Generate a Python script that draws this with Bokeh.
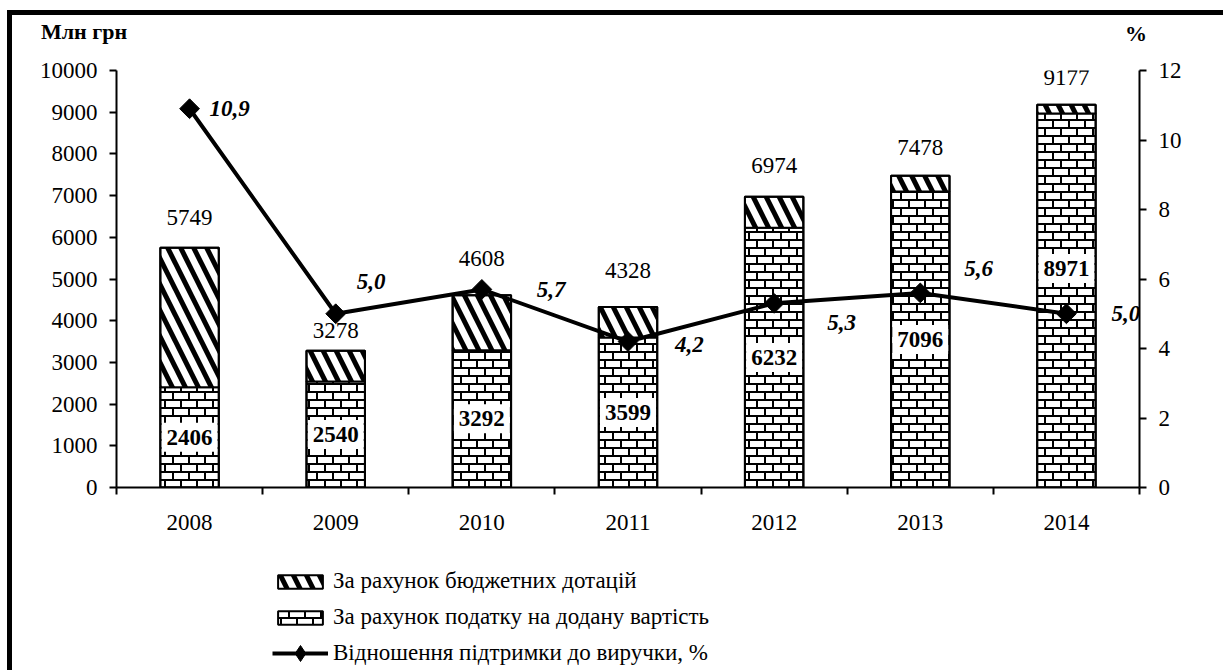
import zlib, struct, base64
from bokeh.plotting import figure
from bokeh.layouts import column
from bokeh.models import (ColumnDataSource, LinearAxis, Range1d, FixedTicker,
                          Legend, LegendItem, ImageURLTexture, Div)
from bokeh.core.properties import value
from bokeh.embed import file_html
from bokeh.resources import INLINE

# ---------------- data ----------------
years = ["2008", "2009", "2010", "2011", "2012", "2013", "2014"]
vat = [2406, 2540, 3292, 3599, 6232, 7096, 8971]          # за рахунок ПДВ
totals = [5749, 3278, 4608, 4328, 6974, 7478, 9177]       # загальна підтримка
ratio = [10.9, 5.0, 5.7, 4.2, 5.3, 5.6, 5.0]              # відношення, %
ratio_labels = ["10,9", "5,0", "5,7", "4,2", "5,3", "5,6", "5,0"]
left_ticks = [0, 1000, 2000, 3000, 4000, 5000, 6000, 7000, 8000, 9000, 10000]
right_ticks = [0, 2, 4, 6, 8, 10, 12]
left_title = "Млн грн"
right_title = "%"
legend_labels = ["За рахунок бюджетних дотацій",
                 "За рахунок податку на додану вартість",
                 "Відношення підтримки до виручки, %"]

subsidy = [t - v for t, v in zip(totals, vat)]
xs = list(range(1, len(years) + 1))

# ---------------- styles (screen offsets) ----------------
total_dy = [-30, -20, -37, -37, -31, -28, -27]
vat_dy = [0, 0, 0, 0, 0, 0, -32]
pt_dx = [20, 21, 55, 47, 53, 44, 45]
pt_dy = [0, -32, 0, 3, 19, -24, 0]

FONT = "Liberation Serif, DejaVu Serif"
W = 1210
NAN = float("nan")

# brick texture (16x16 png)
def make_png(w, h, rows):
    raw = b"".join(b"\x00" + bytes(r) for r in rows)
    def chunk(t, d):
        c = struct.pack(">I", len(d)) + t + d
        return c + struct.pack(">I", zlib.crc32(t + d) & 0xffffffff)
    return (b"\x89PNG\r\n\x1a\n" +
            chunk(b"IHDR", struct.pack(">IIBBBBB", w, h, 8, 0, 0, 0, 0)) +
            chunk(b"IDAT", zlib.compress(raw)) + chunk(b"IEND", b""))

tile = []
for yy in range(16):
    row = []
    for xx in range(16):
        if yy % 8 in (0, 1):
            row.append(0)
        elif (yy < 8 and xx in (0, 1)) or (yy >= 8 and xx in (8, 9)):
            row.append(0)
        else:
            row.append(255)
    tile.append(row)
brick_url = "data:image/png;base64," + base64.b64encode(make_png(16, 16, tile)).decode()

VAT_STYLE = dict(fill_color="white", line_color="black", line_width=2,
                 hatch_pattern=value("brick"))
SUB_STYLE = dict(fill_color="white", line_color="black", line_width=2,
                 hatch_pattern="left_diagonal_line", hatch_color="black",
                 hatch_weight=5, hatch_scale=26)

src = ColumnDataSource(dict(
    x=xs, vat=vat, totals=totals, zero=[0] * len(xs), ratio=ratio,
    rlab=ratio_labels, tlab=[str(t) for t in totals], vlab=[str(v) for v in vat],
    vmid=[v / 2 for v in vat], tdy=total_dy, vdy=vat_dy, pdx=pt_dx, pdy=pt_dy,
))

# ---------------- title strip (axis titles) ----------------
css_font = ("font-family:'Liberation Serif','DejaVu Serif',serif;font-weight:bold;"
            "font-size:22px;line-height:24px;color:black;")
tdiv = Div(width=W, height=30, text=(
    f'<div style="position:relative;width:{W}px;height:30px;{css_font}">'
    f'<span style="position:absolute;left:24px;top:0px;white-space:nowrap;">{left_title}</span>'
    f'<span style="position:absolute;left:1108px;top:2px;white-space:nowrap;">{right_title}</span>'
    '</div>'))

# ---------------- main chart ----------------
p = figure(width=W, height=490, output_backend="svg", toolbar_location=None,
           x_range=Range1d(0.5, 7.5), y_range=Range1d(0, 10000),
           min_border_left=104, min_border_right=83, min_border_top=15,
           min_border_bottom=58)
p.extra_y_ranges = {"pct": Range1d(0, 12)}
p.outline_line_color = None
p.xgrid.visible = False
p.ygrid.visible = False

p.vbar(x="x", bottom="zero", top="vat", width=0.4, source=src,
       hatch_extra={"brick": ImageURLTexture(url=brick_url, repetition="repeat")},
       **VAT_STYLE)
p.vbar(x="x", bottom="vat", top="totals", width=0.4, source=src, **SUB_STYLE)

# VAT labels in white boxes
p.text(x="x", y="vmid", text="vlab", y_offset="vdy", source=src,
       text_font=value(FONT), text_font_size="23px", text_font_style="bold",
       text_align="center", text_baseline="middle", text_color="black",
       background_fill_color="white",
       padding=dict(left=5, right=5, top=7, bottom=7))
p.vbar(x="x", bottom="zero", top="totals", width=0.4, source=src,
       fill_alpha=0, line_color="black", line_width=2)

p.line(x="x", y="ratio", source=src, y_range_name="pct",
       line_color="black", line_width=4)
p.scatter(x="x", y="ratio", source=src, y_range_name="pct",
          marker="square", size=14, angle=0.785398,
          fill_color="black", line_color="black")

p.text(x="x", y="ratio", text="rlab", source=src, y_range_name="pct",
       x_offset="pdx", y_offset="pdy",
       text_font=value(FONT), text_font_size="23px", text_font_style="bold italic",
       text_align="left", text_baseline="middle", text_color="black")

p.text(x="x", y="totals", text="tlab", source=src, y_offset="tdy",
       text_font=value(FONT), text_font_size="23px",
       text_align="center", text_baseline="middle", text_color="black")

xa = p.xaxis[0]
xa.ticker = FixedTicker(ticks=xs, minor_ticks=[x - 0.5 for x in xs] + [xs[-1] + 0.5])
xa.major_label_overrides = {x: y for x, y in zip(xs, years)}
xa.major_tick_out = 0
xa.major_tick_in = 0
xa.minor_tick_out = 7
xa.minor_tick_in = 0
xa.minor_tick_line_width = 2
xa.minor_tick_line_color = "black"
xa.major_label_standoff = 20

ya = p.yaxis[0]
ya.ticker = FixedTicker(ticks=left_ticks)
ya.minor_tick_line_color = None

ra = LinearAxis(y_range_name="pct", ticker=FixedTicker(ticks=right_ticks))
ra.minor_tick_line_color = None
p.add_layout(ra, "right")

for ax in (ya, ra):
    ax.major_tick_out = 7
    ax.major_tick_in = 0
    ax.major_label_standoff = 12
for ax in (xa, ya, ra):
    ax.axis_line_width = 2
    ax.axis_line_color = "black"
    ax.major_tick_line_width = 2
    ax.major_tick_line_color = "black"
    ax.major_label_text_font = FONT
    ax.major_label_text_font_size = "23px"
    ax.major_label_text_color = "black"

# ---------------- legend strip ----------------
lf = figure(width=W, height=128, output_backend="svg", toolbar_location=None,
            x_range=Range1d(0, 1), y_range=Range1d(0, 1),
            x_axis_type=None, y_axis_type=None, min_border=0)
lf.outline_line_color = None
lf.xgrid.visible = False
lf.ygrid.visible = False
# legend sample glyphs: positions are NaN, so nothing is drawn in the strip itself
off_bar = ColumnDataSource(dict(x=[NAN], bottom=[NAN], top=[NAN]))
off_pt = ColumnDataSource(dict(x=[NAN, NAN], y=[NAN, NAN]))
l_sub = lf.vbar(x="x", bottom="bottom", top="top", width=0.1, source=off_bar,
                **SUB_STYLE)
l_vat = lf.vbar(x="x", bottom="bottom", top="top", width=0.1, source=off_bar,
                hatch_extra={"brick": ImageURLTexture(url=brick_url, repetition="repeat")},
                **VAT_STYLE)
l_line = lf.line(x="x", y="y", source=off_pt, line_color="black", line_width=4)
l_mk = lf.scatter(x="x", y="y", source=off_pt, marker="diamond", size=20,
                  fill_color="black", line_color="black")
LEG = dict(border_line_color=None, background_fill_alpha=0,
           label_text_font=FONT, label_text_font_size="23px",
           label_text_color="black", glyph_width=56, label_height=24,
           spacing=10, padding=0, margin=0, label_standoff=5,
           orientation="vertical")
legend1 = Legend(items=[LegendItem(label=legend_labels[0], renderers=[l_sub]),
                        LegendItem(label=legend_labels[1], renderers=[l_vat])],
                 location=(156, 43), glyph_height=17, **LEG)
legend2 = Legend(items=[LegendItem(label=legend_labels[2], renderers=[l_line, l_mk])],
                 location=(156, 0), glyph_height=40, **LEG)
lf.add_layout(legend1, "center")
lf.add_layout(legend2, "center")

page = column(tdiv, p, lf, spacing=0)
page.styles = {"border-left": "5px solid black", "border-top": "5px solid black",
               "margin-top": "10px", "margin-left": "7px"}

open("out.html", "w").write(file_html(page, INLINE))
